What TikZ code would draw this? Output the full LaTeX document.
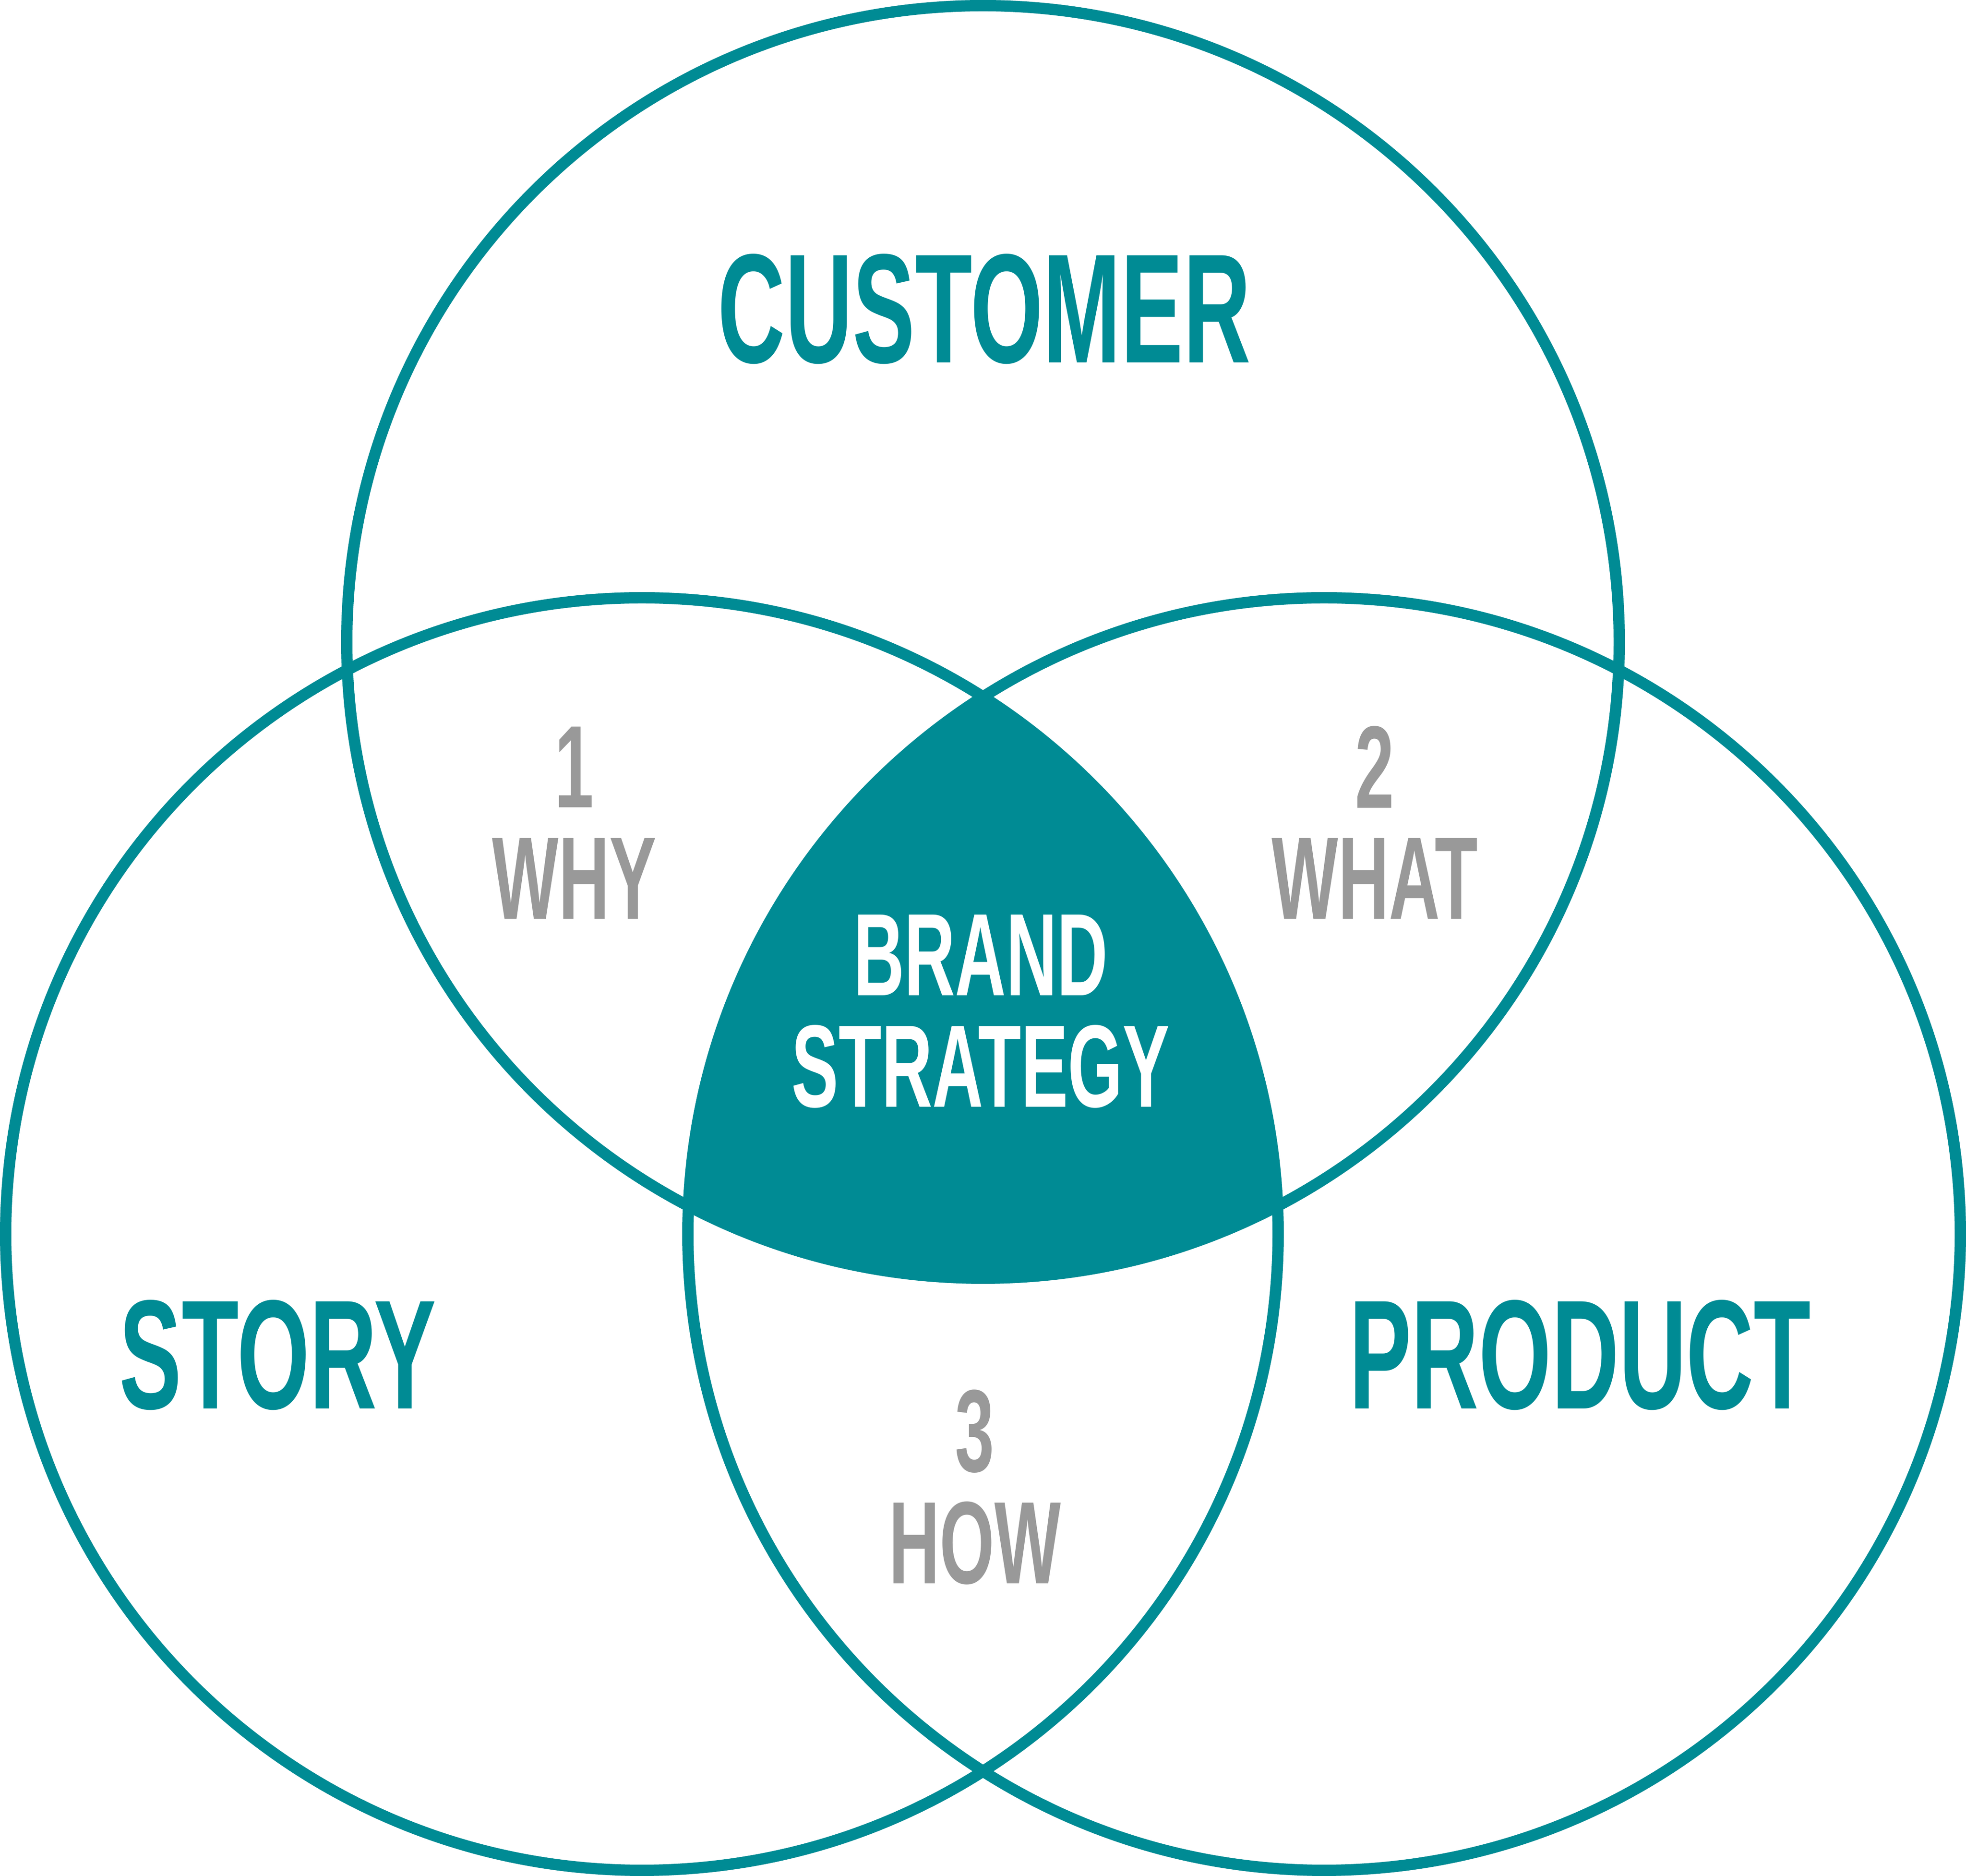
\documentclass[tikz,border=0pt]{standalone}
\usepackage{fontspec}
\newfontfamily\venfont[FakeStretch=0.6]{Liberation Sans}
\definecolor{brandteal}{RGB}{0,139,148}
\definecolor{labelgray}{RGB}{153,153,153}
\tikzset{
  ring/.style={draw=brandteal,line width=0.25cm},
  bigword/.style={inner sep=0pt,text=brandteal,font=\venfont\bfseries\fontsize{97.8}{100}\selectfont},
  smallword/.style={inner sep=0pt,text=labelgray,font=\venfont\bfseries\fontsize{73.7}{76}\selectfont},
  coreword/.style={smallword,text=white}
}
\begin{document}
\begin{tikzpicture}
  \useasboundingbox (0,0) rectangle (43.40,41.41);
  % centre of the three sets
  \begin{scope}
    \clip (21.70,27.24) circle (14.045);
    \clip (14.17,14.17) circle (14.045);
    \fill[brandteal] (29.23,14.17) circle (14.045);
  \end{scope}
  \draw[ring] (21.70,27.24) circle (14.045);
  \draw[ring] (14.17,14.17) circle (14.045);
  \draw[ring] (29.23,14.17) circle (14.045);
  % set names
  \node[bigword] (customer) at (21.73,34.59) {CUSTOMER};
  \node[bigword] (story) at (6.13,11.50) {STORY};
  \node[bigword] (product) at (34.88,11.50) {PRODUCT};
  % overlaps
  \node[smallword] (one) at (12.68,24.48) {1};
  \node[smallword] (why) at (12.68,22.02) {WHY};
  \node[smallword] (two) at (30.35,24.48) {2};
  \node[smallword] (what) at (30.35,22.02) {WHAT};
  \node[smallword] (three) at (21.52,9.81) {3};
  \node[smallword] (how) at (21.52,7.35) {HOW};
  \node[coreword] (brand) at (21.65,20.33) {BRAND};
  \node[coreword] (strategy) at (21.65,17.87) {STRATEGY};
\end{tikzpicture}
\end{document}
